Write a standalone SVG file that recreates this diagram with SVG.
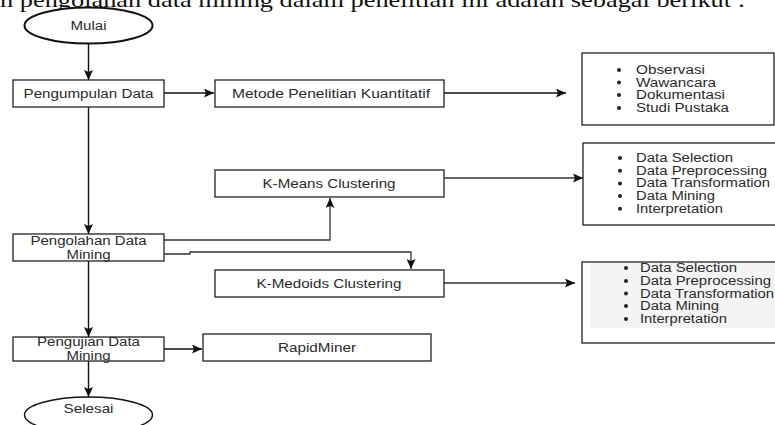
<svg xmlns="http://www.w3.org/2000/svg" width="775" height="425" viewBox="0 0 775 425">
<style>
.bx{fill:#fff;stroke:#222;stroke-width:1.3}
.el{fill:#fff;stroke:#111;stroke-width:2}
.t{font-family:"Liberation Sans",Arial,sans-serif;font-size:12.5px;fill:#2a2a2a}
.c{text-anchor:middle}
.ln{fill:none;stroke:#111;stroke-width:1.4}
.lg{fill:none;stroke:#333;stroke-width:1.3}
.bu{fill:#222}
.hd{font-family:"Liberation Serif","Times New Roman",serif;font-size:21px;fill:#111}
</style>
<defs>
<marker id="ah" markerWidth="11" markerHeight="9" refX="10" refY="4.5" orient="auto" markerUnits="userSpaceOnUse">
<path d="M0,0 L10,4.5 L0,9 L2,4.5 z" fill="#111"/>
</marker>
</defs>
<rect width="775" height="425" fill="#fff"/>
<text class="hd" x="0" y="7" textLength="745" lengthAdjust="spacingAndGlyphs">n pengolahan data mining dalam penelitian ini adalah sebagai berikut :</text>

<g id="connectors">
<line class="ln" x1="88.5" y1="43" x2="88.5" y2="80" marker-end="url(#ah)"/>
<line class="ln" x1="164" y1="93" x2="214" y2="93" marker-end="url(#ah)"/>
<line class="ln" x1="444" y1="93" x2="566" y2="93" marker-end="url(#ah)"/>
<line class="ln" x1="88.5" y1="107" x2="88.5" y2="234" marker-end="url(#ah)"/>
<polyline class="lg" points="164,240 330,240 330,198" marker-end="url(#ah)"/>
<polyline class="lg" points="164,254 190,254 190,252 411,252 411,269" marker-end="url(#ah)"/>
<line class="lg" x1="444" y1="178" x2="583" y2="178" marker-end="url(#ah)"/>
<line class="lg" x1="444" y1="283" x2="575" y2="283" marker-end="url(#ah)"/>
<line class="ln" x1="88.5" y1="261" x2="88.5" y2="337" marker-end="url(#ah)"/>
<line class="ln" x1="164" y1="349" x2="202" y2="349" marker-end="url(#ah)"/>
<line class="ln" x1="88.5" y1="361" x2="88.5" y2="397" marker-end="url(#ah)"/>
</g>

<g id="mulai">
<ellipse class="el" cx="88.5" cy="25.5" rx="64" ry="18"/>
<text class="t c" x="88.5" y="30" textLength="36" lengthAdjust="spacingAndGlyphs">Mulai</text>
</g>

<g id="pengumpulan">
<rect class="bx" x="13" y="80" width="151" height="27"/>
<text class="t c" x="88.5" y="98" textLength="130" lengthAdjust="spacingAndGlyphs">Pengumpulan Data</text>
</g>

<g id="metode">
<rect class="bx" x="215" y="80" width="229" height="27"/>
<text class="t c" x="331" y="98" textLength="198" lengthAdjust="spacingAndGlyphs">Metode Penelitian Kuantitatif</text>
</g>

<g id="list-teknik">
<rect class="bx" x="582" y="53" width="192" height="72"/>
<circle class="bu" cx="619" cy="70" r="2"/>
<circle class="bu" cx="619" cy="82.5" r="2"/>
<circle class="bu" cx="619" cy="95" r="2"/>
<circle class="bu" cx="619" cy="108" r="2"/>
<text class="t" x="636" y="74" textLength="69" lengthAdjust="spacingAndGlyphs">Observasi</text>
<text class="t" x="636" y="86.5" textLength="80" lengthAdjust="spacingAndGlyphs">Wawancara</text>
<text class="t" x="636" y="99" textLength="89" lengthAdjust="spacingAndGlyphs">Dokumentasi</text>
<text class="t" x="636" y="112" textLength="93" lengthAdjust="spacingAndGlyphs">Studi Pustaka</text>
</g>

<g id="kmeans">
<rect class="bx" x="215" y="170" width="229" height="27"/>
<text class="t c" x="329" y="188" textLength="133" lengthAdjust="spacingAndGlyphs">K-Means Clustering</text>
</g>

<g id="list-kmeans">
<rect class="bx" x="583" y="143" width="200" height="82"/>
<circle class="bu" cx="620" cy="158" r="2"/>
<circle class="bu" cx="620" cy="170.7" r="2"/>
<circle class="bu" cx="620" cy="183.4" r="2"/>
<circle class="bu" cx="620" cy="196.1" r="2"/>
<circle class="bu" cx="620" cy="208.8" r="2"/>
<text class="t" x="636" y="162" textLength="97" lengthAdjust="spacingAndGlyphs">Data Selection</text>
<text class="t" x="636" y="174.7" textLength="131" lengthAdjust="spacingAndGlyphs">Data Preprocessing</text>
<text class="t" x="636" y="187.4" textLength="134" lengthAdjust="spacingAndGlyphs">Data Transformation</text>
<text class="t" x="636" y="200.1" textLength="79" lengthAdjust="spacingAndGlyphs">Data Mining</text>
<text class="t" x="636" y="212.8" textLength="87" lengthAdjust="spacingAndGlyphs">Interpretation</text>
</g>

<g id="pengolahan">
<rect class="bx" x="13" y="234" width="151" height="27"/>
<text class="t c" x="88.5" y="244.5" textLength="116" lengthAdjust="spacingAndGlyphs">Pengolahan Data</text>
<text class="t c" x="88.5" y="258.5" textLength="44" lengthAdjust="spacingAndGlyphs">Mining</text>
</g>

<g id="kmedoids">
<rect class="bx" x="215" y="270" width="229" height="27"/>
<text class="t c" x="329" y="288" textLength="145" lengthAdjust="spacingAndGlyphs">K-Medoids Clustering</text>
</g>

<g id="list-kmedoids">
<rect class="bx" x="582" y="262" width="200" height="81"/>
<rect x="590" y="263" width="185" height="65" fill="#f4f4f4"/>
<circle class="bu" cx="626" cy="268" r="2"/>
<circle class="bu" cx="626" cy="281" r="2"/>
<circle class="bu" cx="626" cy="293.5" r="2"/>
<circle class="bu" cx="626" cy="306" r="2"/>
<circle class="bu" cx="626" cy="319" r="2"/>
<text class="t" x="640" y="272" textLength="97" lengthAdjust="spacingAndGlyphs">Data Selection</text>
<text class="t" x="640" y="285" textLength="131" lengthAdjust="spacingAndGlyphs">Data Preprocessing</text>
<text class="t" x="640" y="297.5" textLength="134" lengthAdjust="spacingAndGlyphs">Data Transformation</text>
<text class="t" x="640" y="310" textLength="79" lengthAdjust="spacingAndGlyphs">Data Mining</text>
<text class="t" x="640" y="323" textLength="87" lengthAdjust="spacingAndGlyphs">Interpretation</text>
</g>

<g id="pengujian">
<rect class="bx" x="13" y="337" width="151" height="24"/>
<text class="t c" x="88.5" y="346" textLength="103" lengthAdjust="spacingAndGlyphs">Pengujian Data</text>
<text class="t c" x="88.5" y="360" textLength="44" lengthAdjust="spacingAndGlyphs">Mining</text>
</g>

<g id="rapidminer">
<rect class="bx" x="203" y="334" width="228" height="27"/>
<text class="t c" x="317" y="351.5" textLength="78" lengthAdjust="spacingAndGlyphs">RapidMiner</text>
</g>

<g id="selesai">
<ellipse class="el" cx="88.5" cy="415" rx="64" ry="18" style="stroke-width:1.4"/>
<text class="t c" x="88.5" y="413" textLength="50" lengthAdjust="spacingAndGlyphs">Selesai</text>
</g>
</svg>
